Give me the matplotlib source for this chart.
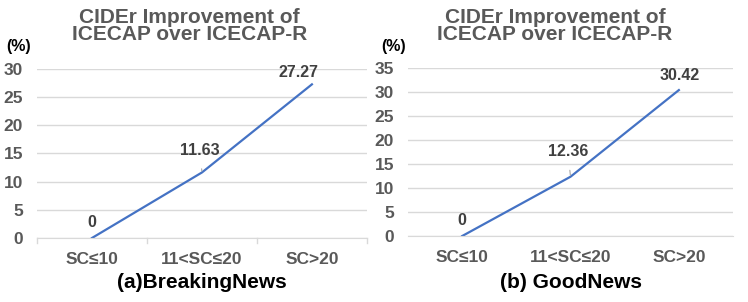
import matplotlib.pyplot as plt

plt.rcParams['font.family'] = ['Liberation Sans', 'DejaVu Sans']

categories = ['SC≤10', '11<SC≤20', 'SC>20']
breaking_vals = [0, 11.63, 27.27]
good_vals = [0, 12.36, 30.42]
breaking_labels = ['0', '11.63', '27.27']
good_labels = ['0', '12.36', '30.42']

GRAY = '#595959'
LINE = '#4472C4'

fig = plt.figure(figsize=(7.48, 3.02), dpi=100)


def draw_panel(rect, vals, labels, ymax, caption, title_x, pct_x, ticks_on, offsets):
    ax = fig.add_axes(rect)
    x = range(len(categories))
    ax.plot(x, vals, color=LINE, lw=1.6)
    ax.set_xlim(-0.5, len(categories) - 0.5)
    ax.set_ylim(0, ymax)
    ax.set_yticks(range(0, ymax + 1, 5))
    ax.set_xticks(list(x))
    ax.set_xticklabels(categories)
    ax.grid(axis='y', color='#D9D9D9', lw=1)
    ax.set_axisbelow(True)
    for s in ['top', 'right', 'left']:
        ax.spines[s].set_visible(False)
    ax.spines['bottom'].set_color('#D9D9D9')
    ax.tick_params(axis='y', length=0, pad=10, labelsize=12.5, labelcolor=GRAY)
    ax.tick_params(axis='x', length=0, pad=10, labelsize=12.5, labelcolor=GRAY)
    for t in ax.get_xticklabels() + ax.get_yticklabels():
        t.set_fontweight('bold')
    if ticks_on:
        for b in [-0.5, 0.5, 1.5, 2.5]:
            ax.plot([b, b], [0, -ymax * 0.03], color='#D9D9D9', lw=1, clip_on=False)
    # data labels, middle one has a leader line
    for i, (lab, off) in enumerate(zip(labels, offsets)):
        arrow = None
        if i == 1:
            arrow = dict(arrowstyle='-', color='#A6A6A6', lw=0.8, shrinkA=6, shrinkB=1)
        ax.annotate(lab, (i, vals[i]), xytext=off, textcoords='offset points',
                    ha='center', va='center', fontsize=11.5, fontweight='bold',
                    color='#404040', arrowprops=arrow)
    fig.text(title_x, 0.975, 'CIDEr Improvement of\nICECAP over ICECAP-R', ha='center', va='top',
             fontsize=15, fontweight='bold', color=GRAY, linespacing=0.9)
    fig.text(pct_x, 0.845, '(%)', ha='left', va='center', fontsize=11.5, fontweight='bold', color='black')
    fig.text(rect[0] + rect[2] / 2, 0.066, caption, ha='center', va='center',
             fontsize=15, fontweight='bold', color='black')
    return ax


draw_panel([0.0495, 0.212, 0.441, 0.5596], breaking_vals, breaking_labels, 30,
           '(a)BreakingNews', 0.253, 0.008, True,
           [(0, 11.5), (-1.5, 16), (-9.5, 8.6)])
draw_panel([0.5455, 0.2185, 0.4345, 0.556], good_vals, good_labels, 35,
           '(b) GoodNews', 0.742, 0.51, False,
           [(0, 11), (-2, 18), (0.7, 10.8)])

plt.savefig('out.png', dpi=100)
